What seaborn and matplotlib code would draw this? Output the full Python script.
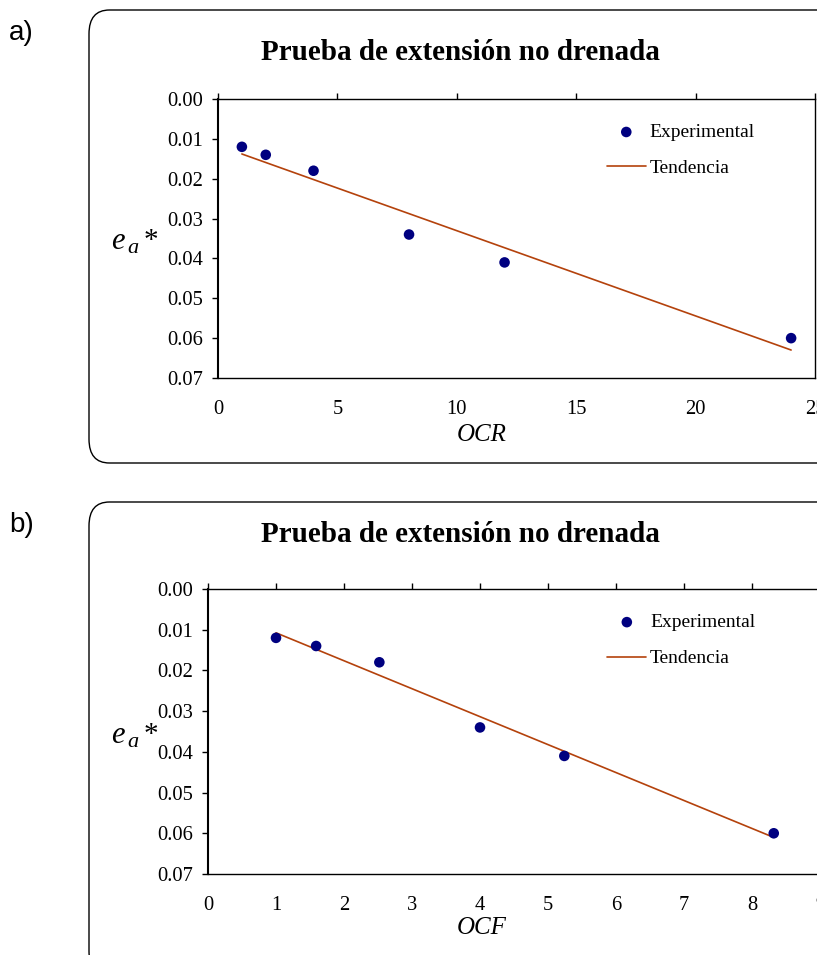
import numpy as np
import pandas as pd
import matplotlib
matplotlib.use("Agg")
import matplotlib.pyplot as plt
from matplotlib.patches import FancyBboxPatch
import seaborn as sns

# ---- data ----
ocr = [1, 2, 4, 8, 12, 24]
ocf = [1.0, 1.59, 2.52, 4.0, 5.24, 8.32]
ea = [0.012, 0.014, 0.018, 0.034, 0.041, 0.060]
y_ticks = [0.00, 0.01, 0.02, 0.03, 0.04, 0.05, 0.06, 0.07]
xticks_a = [0, 5, 10, 15, 20, 25]
xticks_b = [0, 1, 2, 3, 4, 5, 6, 7, 8, 9]
title = "Prueba de extensión no drenada"

sns.set_style("white")
plt.rcParams['font.family'] = ['Liberation Serif', 'DejaVu Serif']
plt.rcParams['text.color'] = 'black'
plt.rcParams['axes.labelcolor'] = 'black'

W, H = 817, 955
fig = plt.figure(figsize=(W / 100, H / 100), dpi=100)

def fx(px):
    return px / W

def fy(py):
    return 1 - py / H

MARK = '#000080'
LINE = '#B4420C'

def panel(letter, box_top, box_bot, ax_left, ax_right, ax_top, ax_bot,
          xdata, xlim, xticks, xlabel, title_y, xlabel_y, ylab_y, leg_x):
    # rounded frame
    box = FancyBboxPatch((fx(89), fy(box_bot)), fx(760), (box_bot - box_top) / H,
                         boxstyle="round,pad=0,rounding_size=0.025",
                         transform=fig.transFigure, facecolor='none',
                         edgecolor='black', linewidth=1.0, zorder=0)
    fig.patches.append(box)
    fig.text(fx(9), fy(box_top + 23), letter, family='Liberation Sans',
             fontsize=20, ha='left', va='center', color='black')
    fig.text(fx(460), fy(title_y), title, fontsize=21, fontweight='bold',
             ha='center', va='center', color='black')

    ax = fig.add_axes([fx(ax_left), fy(ax_bot), (ax_right - ax_left) / W,
                       (ax_bot - ax_top) / H])
    df = pd.DataFrame({'x': xdata, 'y': ea})
    sns.regplot(data=df, x='x', y='y', ax=ax, scatter=False, ci=None,
                color=LINE, line_kws={'linewidth': 1.2})
    trend = ax.lines[-1]
    trend.set_label('Tendencia')
    sns.scatterplot(data=df, x='x', y='y', ax=ax, color=MARK, s=58,
                    edgecolor='none', zorder=3)
    pts = ax.collections[-1]
    ax.set_xlim(xlim)
    ax.set_ylim(0.07, 0.0)
    ax.set_yticks(y_ticks)
    ax.set_yticklabels([f"{v:.2f}" for v in y_ticks])
    ax.set_xticks(xticks)
    ax.set_xticklabels([str(v) for v in xticks])
    ax.set_xlabel('')
    ax.set_ylabel('')
    for s in ax.spines.values():
        s.set_visible(True)
        s.set_color('black')
        s.set_linewidth(1.0)
    ax.spines['left'].set_linewidth(1.5)
    ax.tick_params(axis='x', top=True, bottom=False, labeltop=False,
                   labelbottom=True, direction='out', length=4, width=1,
                   pad=12, labelsize=14.8, colors='black')
    ax.tick_params(axis='y', left=True, direction='out', length=4, width=1,
                   pad=7, labelsize=14.8, colors='black')
    ax.legend([pts, trend], ['Experimental', 'Tendencia'], loc='upper left',
              bbox_to_anchor=(leg_x, 0.975), frameon=False, fontsize=14,
              handlelength=2.0, handletextpad=0.2, labelspacing=0.95)
    fig.text(fx(482), fy(xlabel_y), xlabel, fontsize=18, style='italic',
             ha='center', va='center', color='black')
    fig.text(fx(111), fy(ylab_y), 'e', fontsize=22, style='italic',
             ha='left', va='baseline', color='black')
    fig.text(fx(127), fy(ylab_y + 4), 'a', fontsize=16, style='italic',
             ha='left', va='baseline', color='black')
    fig.text(fx(144), fy(ylab_y - 1), '*', fontsize=21,
             ha='left', va='baseline', color='black')
    return ax

panel('a)', 10, 463, 218, 815, 99, 378, ocr, (0, 25), xticks_a, 'OCR',
      52, 435, 249, 0.622)
panel('b)', 502, 975, 208, 820, 589, 874, ocf, (0, 9), xticks_b, 'OCF',
      534, 928, 743, 0.624)

fig.savefig('out.png', dpi=100)
